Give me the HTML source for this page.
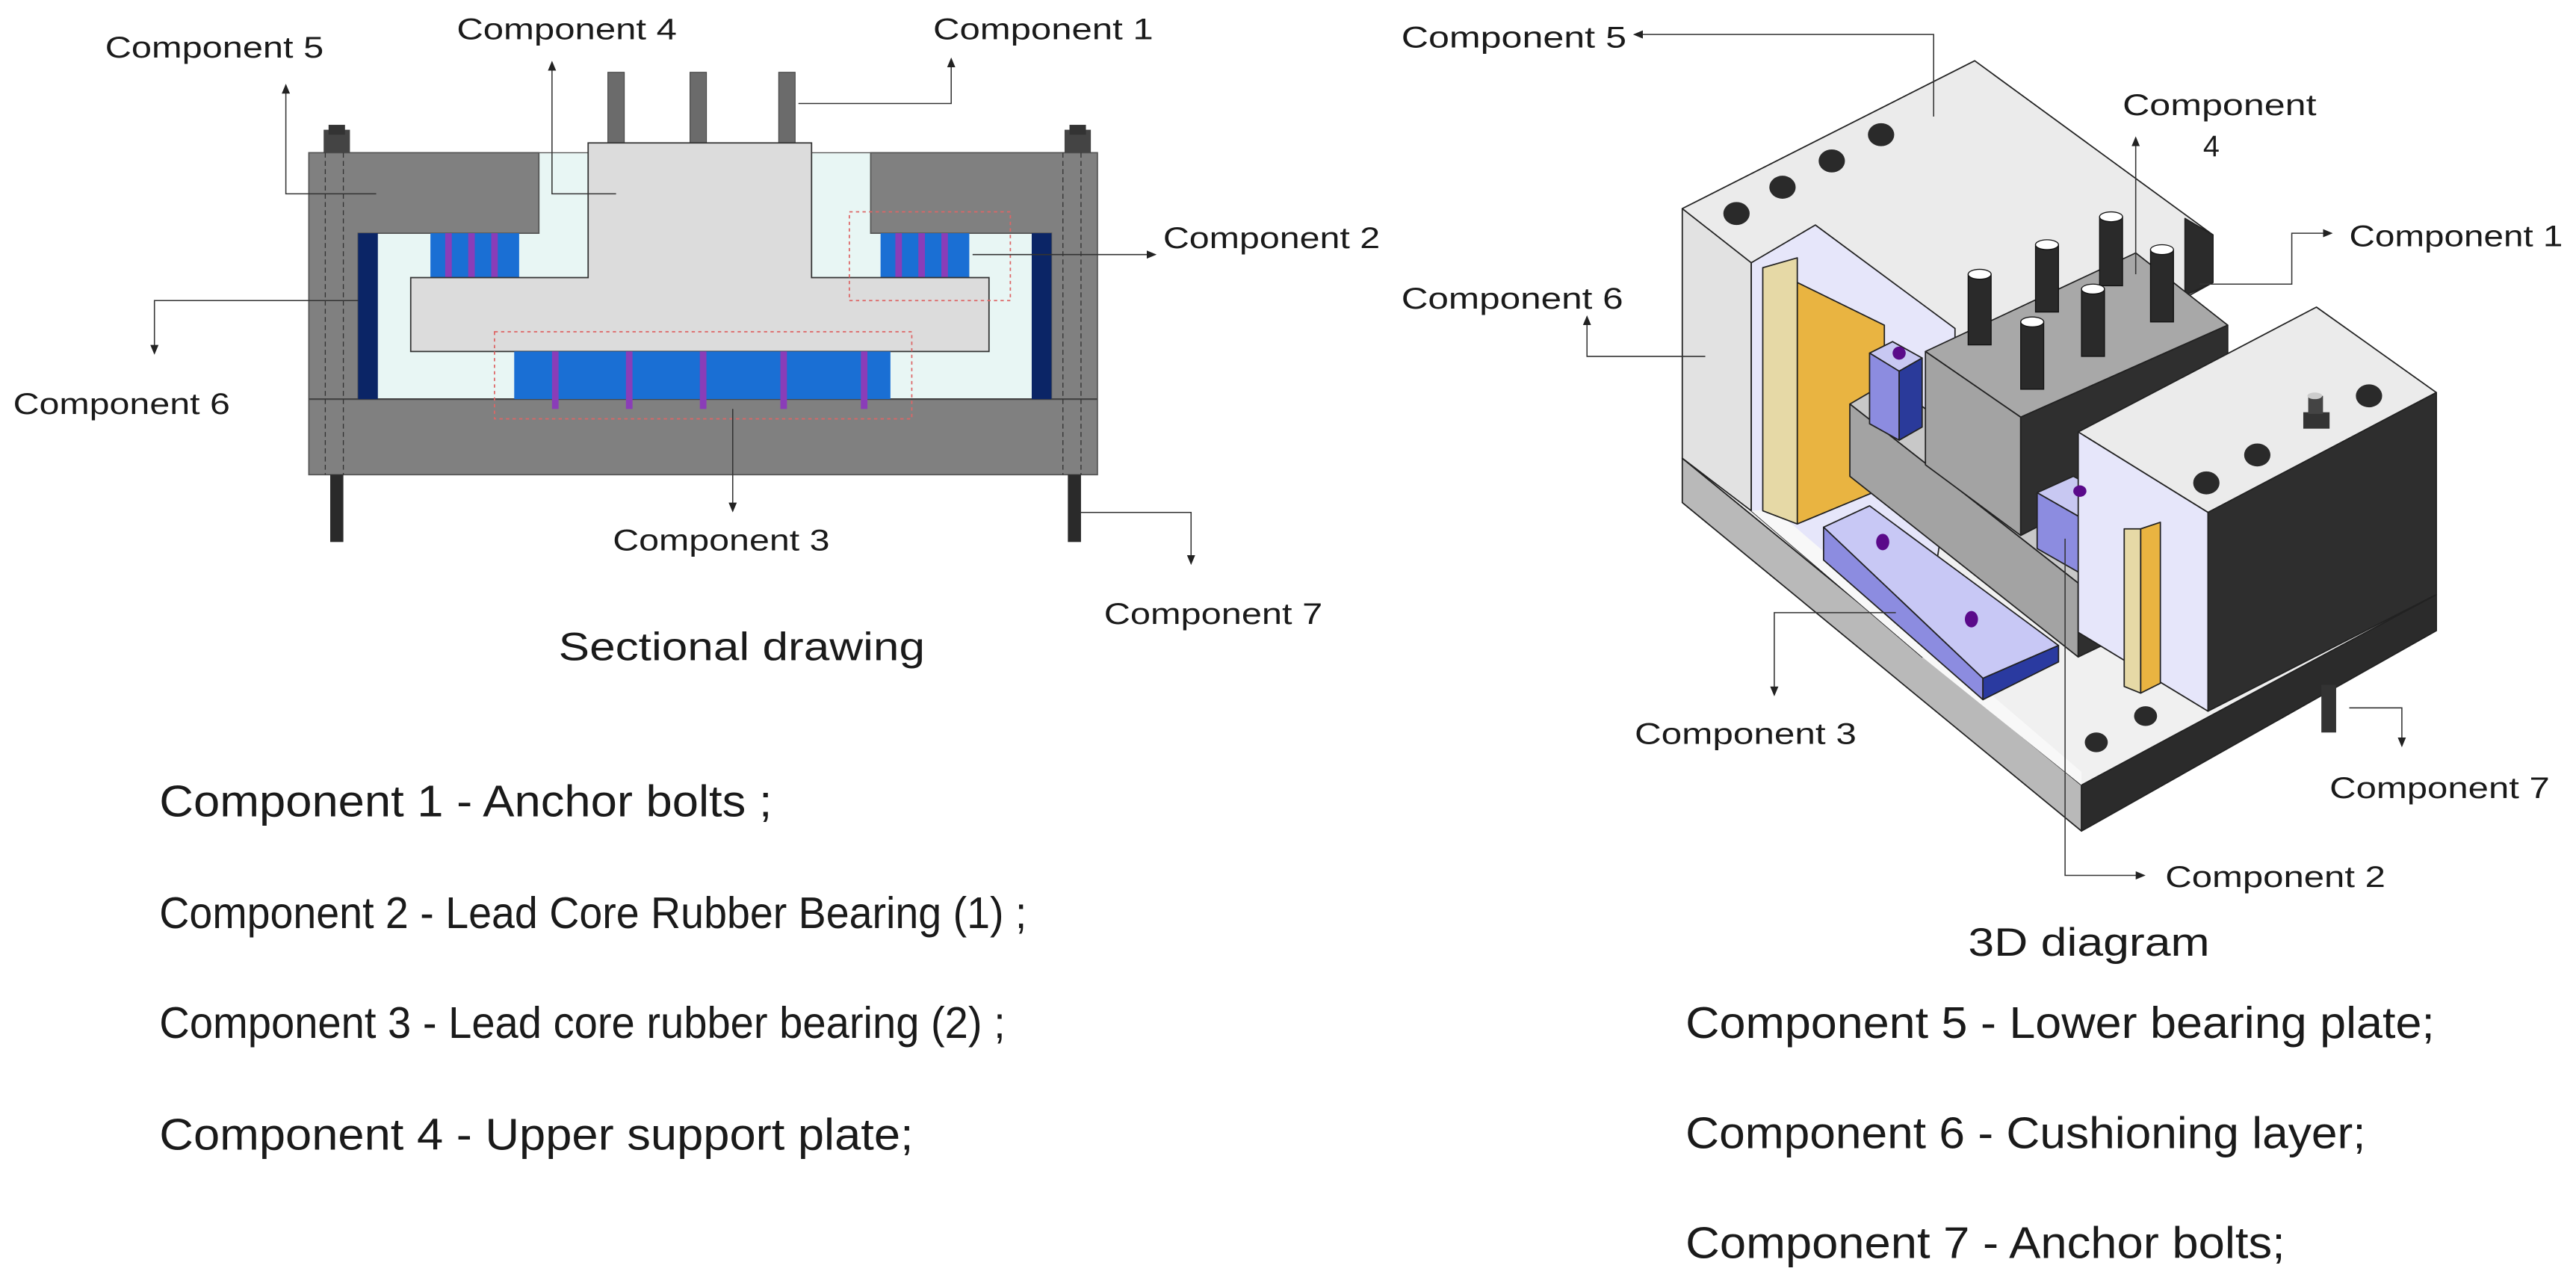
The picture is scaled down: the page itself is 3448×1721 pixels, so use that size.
<!DOCTYPE html>
<html><head><meta charset="utf-8"><style>
html,body{margin:0;padding:0;background:#fff;}
svg{display:block;}
text{font-family:"Liberation Sans",sans-serif;fill:#1a1a1a;}
</style></head><body>
<svg width="3448" height="1721" viewBox="0 0 1568 783" preserveAspectRatio="none" xmlns="http://www.w3.org/2000/svg">
<defs>
<marker id="a" markerWidth="6" markerHeight="6" refX="5" refY="3" orient="auto" markerUnits="userSpaceOnUse"><path d="M0,0.5 L6,3 L0,5.5 z" fill="#222"/></marker>
</defs>
<rect width="1568" height="783" fill="#fff"/>

<!-- ===== SECTIONAL DRAWING ===== -->
<!-- interior light cyan -->
<rect x="218" y="93" width="422" height="150" fill="#e8f6f4" stroke="#555" stroke-width="0.6"/>
<!-- gray frame -->
<path d="M188,93 H328 V142 H218 V243 H640 V142 H530 V93 H668 V289 H188 Z" fill="#808080" stroke="#555" stroke-width="0.8"/>
<line x1="188" y1="243" x2="668" y2="243" stroke="#444" stroke-width="1"/>
<!-- dashed bolt lines -->
<g stroke="#333" stroke-width="0.6" stroke-dasharray="3,2">
<line x1="198" y1="93" x2="198" y2="289"/><line x1="209" y1="93" x2="209" y2="289"/>
<line x1="647" y1="93" x2="647" y2="289"/><line x1="658" y1="93" x2="658" y2="289"/>
</g>
<!-- navy strips -->
<rect x="218" y="142" width="12" height="101" fill="#0b2566"/>
<rect x="628" y="142" width="12" height="101" fill="#0b2566"/>
<!-- nuts -->
<rect x="197" y="79" width="16" height="14" fill="#444"/><rect x="200" y="76" width="10" height="6" fill="#333"/>
<rect x="648" y="79" width="16" height="14" fill="#444"/><rect x="651" y="76" width="10" height="6" fill="#333"/>
<!-- bottom bolts -->
<rect x="201" y="289" width="8" height="41" fill="#2a2a2a"/>
<rect x="650" y="289" width="8" height="41" fill="#2a2a2a"/>
<!-- top bolts -->
<rect x="370" y="44" width="10" height="44" fill="#6b6b6b" stroke="#444" stroke-width="0.5"/>
<rect x="420" y="44" width="10" height="44" fill="#6b6b6b" stroke="#444" stroke-width="0.5"/>
<rect x="474" y="44" width="10" height="44" fill="#6b6b6b" stroke="#444" stroke-width="0.5"/>
<!-- bearings top -->
<rect x="262" y="142" width="54" height="27" fill="#1a6fd4"/>
<rect x="536" y="142" width="54" height="27" fill="#1a6fd4"/>
<g fill="#8a3db8">
<rect x="271" y="142" width="4" height="32"/><rect x="285" y="142" width="4" height="32"/><rect x="299" y="142" width="4" height="32"/>
<rect x="545" y="142" width="4" height="32"/><rect x="559" y="142" width="4" height="32"/><rect x="573" y="142" width="4" height="32"/>
</g>
<!-- upper support plate T -->
<path d="M358,87 H494 V169 H602 V214 H250 V169 H358 Z" fill="#dcdcdc" stroke="#333" stroke-width="0.8"/>
<!-- bottom bearing -->
<rect x="313" y="214" width="229" height="29" fill="#1a6fd4"/>
<g fill="#8a3db8">
<rect x="336" y="214" width="4" height="35"/><rect x="381" y="214" width="4" height="35"/><rect x="426" y="214" width="4" height="35"/><rect x="475" y="214" width="4" height="35"/><rect x="524" y="214" width="4" height="35"/>
</g>
<!-- red dashed boxes -->
<rect x="517" y="129" width="98" height="54" fill="none" stroke="#d66" stroke-width="0.8" stroke-dasharray="2,2"/>
<rect x="301" y="202" width="254" height="53" fill="none" stroke="#d66" stroke-width="0.8" stroke-dasharray="2,2"/>
<!-- connectors -->
<g fill="none" stroke="#333" stroke-width="0.7" marker-end="url(#a)">
<polyline points="229,118 174,118 174,52"/>
<polyline points="375,118 336,118 336,38"/>
<polyline points="486,63 579,63 579,36"/>
<polyline points="592,155 703,155"/>
<polyline points="218,183 94,183 94,215"/>
<polyline points="446,249 446,311"/>
<polyline points="658,312 725,312 725,343"/>
</g>
<g font-size="18">
<text x="64" y="35" textLength="133" lengthAdjust="spacingAndGlyphs">Component 5</text>
<text x="278" y="24" textLength="134" lengthAdjust="spacingAndGlyphs">Component 4</text>
<text x="568" y="24" textLength="134" lengthAdjust="spacingAndGlyphs">Component 1</text>
<text x="708" y="151" textLength="132" lengthAdjust="spacingAndGlyphs">Component 2</text>
<text x="8" y="252" textLength="132" lengthAdjust="spacingAndGlyphs">Component 6</text>
<text x="373" y="335" textLength="132" lengthAdjust="spacingAndGlyphs">Component 3</text>
<text x="672" y="380" textLength="133" lengthAdjust="spacingAndGlyphs">Component 7</text>
</g>
<text x="340" y="402" font-size="24" textLength="223" lengthAdjust="spacingAndGlyphs">Sectional drawing</text>

<!-- legends -->
<g font-size="27">
<text x="97" y="497" textLength="373" lengthAdjust="spacingAndGlyphs">Component 1 - Anchor bolts ;</text>
<text x="97" y="565" textLength="528" lengthAdjust="spacingAndGlyphs">Component 2 - Lead Core Rubber Bearing (1) ;</text>
<text x="97" y="632" textLength="515" lengthAdjust="spacingAndGlyphs">Component 3 - Lead core rubber bearing (2) ;</text>
<text x="97" y="700" textLength="459" lengthAdjust="spacingAndGlyphs">Component 4 - Upper support plate;</text>
<text x="1026" y="632" textLength="456" lengthAdjust="spacingAndGlyphs">Component 5 - Lower bearing plate;</text>
<text x="1026" y="699" textLength="414" lengthAdjust="spacingAndGlyphs">Component 6 - Cushioning layer;</text>
<text x="1026" y="766" textLength="365" lengthAdjust="spacingAndGlyphs">Component 7 - Anchor bolts;</text>
</g>

<!-- ===== 3D DIAGRAM ===== -->
<g stroke="#222" stroke-width="0.8" stroke-linejoin="round">
<!-- base plate -->
<polygon points="1024,279 1024,306 1267,506 1267,478" fill="#b9b9b9"/>
<polygon points="1267,478 1483,362 1483,384 1267,506" fill="#2b2b2b"/>
<polygon points="1024,279 1169,233 1483,362 1267,478" fill="#f0f0f0"/>
<!-- left block top -->
<polygon points="1024,127 1202,37 1347,143 1347,172 1169,270" fill="#ebebeb"/>
<polygon points="1330,133 1347,143 1347,172 1330,180" fill="#2b2b2b"/>
<!-- left block front face -->
<polygon points="1024,127 1066,160 1066,311 1024,279" fill="#e2e2e2"/>
<!-- cavity lavender -->
<polygon points="1066,160 1105,137 1190,200 1190,270 1170,400 1066,311" fill="#e6e6fa"/>
<polygon points="1066,311 1170,400 1267,478 1267,470 1080,310" fill="#f8f8f8" stroke="none"/>
<!-- holes top -->
<g fill="#2a2a2a" stroke="none">
<ellipse cx="1057" cy="130" rx="8" ry="7"/><ellipse cx="1085" cy="114" rx="8" ry="7"/><ellipse cx="1115" cy="98" rx="8" ry="7"/><ellipse cx="1145" cy="82" rx="8" ry="7"/>
<ellipse cx="1276" cy="452" rx="7" ry="6"/><ellipse cx="1306" cy="436" rx="7" ry="6"/>
</g>
<!-- yellow cushion -->
<polygon points="1094,172 1147,198 1147,297 1094,319" fill="#e9b441"/>
<polygon points="1073,163 1094,157 1094,319 1073,311" fill="#e6d9a6"/>
<!-- lower flange gray bar -->
<polygon points="1126,246 1150,232 1290,340 1265,355" fill="#c8c8c8"/>
<polygon points="1126,246 1265,355 1265,400 1126,290" fill="#a3a3a3"/>
<polygon points="1265,355 1290,340 1290,388 1265,400" fill="#2f2f2f"/>
<!-- upper support block -->
<polygon points="1172,214 1300,154 1356,198 1230,254" fill="#a8a8a8"/>
<polygon points="1172,214 1230,254 1230,326 1172,283" fill="#a3a3a3"/>
<polygon points="1230,254 1356,198 1356,261 1230,326" fill="#2f2f2f"/>
<!-- small bearing 1 -->
<polygon points="1138,215 1152,208 1170,218 1156,226" fill="#c8c8f2"/>
<polygon points="1138,215 1156,226 1156,268 1138,258" fill="#8c8ce0"/>
<polygon points="1156,226 1170,218 1170,260 1156,268" fill="#2a3a9a"/>
<!-- small bearing 2 -->
<polygon points="1240,300 1262,290 1290,305 1268,316" fill="#c8c8f2"/>
<polygon points="1240,300 1268,316 1268,350 1240,334" fill="#8c8ce0"/>
<polygon points="1268,316 1290,305 1298,340 1268,350" fill="#2a3aa0"/>
<!-- long bearing -->
<polygon points="1110,321 1138,308 1253,393 1207,413" fill="#c8c8f5"/>
<polygon points="1110,321 1207,413 1207,426 1110,341" fill="#8c8ce0"/>
<polygon points="1207,413 1253,393 1253,403 1207,426" fill="#2a3aa0"/>
<!-- right block -->
<polygon points="1265,263 1410,187 1483,239 1344,312" fill="#ebebeb"/>
<polygon points="1265,263 1344,312 1344,433 1265,385" fill="#e6e6fa"/>
<polygon points="1344,312 1483,239 1483,362 1344,433" fill="#2e2e2e"/>
<!-- second cushion -->
<polygon points="1303,322 1315,318 1315,416 1303,422" fill="#e9b441"/>
<polygon points="1293,322 1303,322 1303,422 1293,418" fill="#e6d9a6"/>
</g>
<g fill="#5a0a8a">
<ellipse cx="1156" cy="215" rx="4" ry="4"/><ellipse cx="1266" cy="299" rx="4" ry="3.5"/>
<ellipse cx="1146" cy="330" rx="4" ry="5"/><ellipse cx="1200" cy="377" rx="4" ry="5"/>
</g>
<g fill="#2a2a2a">
<ellipse cx="1343" cy="294" rx="8" ry="7"/><ellipse cx="1374" cy="277" rx="8" ry="7"/><ellipse cx="1442" cy="241" rx="8" ry="7"/>
</g>
<!-- knob -->
<rect x="1402" y="251" width="16" height="10" fill="#333"/><rect x="1405" y="241" width="9" height="11" fill="#444"/><ellipse cx="1409" cy="241" rx="4.5" ry="2" fill="#ccc"/>
<!-- bolts on upper plate -->
<g stroke="#111" stroke-width="0.6">
<rect x="1198" y="167" width="14" height="43" fill="#2a2a2a"/><ellipse cx="1205" cy="167" rx="7" ry="3" fill="#fff"/>
<rect x="1239" y="149" width="14" height="41" fill="#2a2a2a"/><ellipse cx="1246" cy="149" rx="7" ry="3" fill="#fff"/>
<rect x="1278" y="132" width="14" height="42" fill="#2a2a2a"/><ellipse cx="1285" cy="132" rx="7" ry="3" fill="#fff"/>
<rect x="1309" y="152" width="14" height="44" fill="#2a2a2a"/><ellipse cx="1316" cy="152" rx="7" ry="3" fill="#fff"/>
<rect x="1267" y="176" width="14" height="41" fill="#2a2a2a"/><ellipse cx="1274" cy="176" rx="7" ry="3" fill="#fff"/>
<rect x="1230" y="196" width="14" height="41" fill="#2a2a2a"/><ellipse cx="1237" cy="196" rx="7" ry="3" fill="#fff"/>
</g>
<!-- bottom bolt comp7 -->
<rect x="1413" y="417" width="9" height="29" fill="#333"/>
<!-- connectors right -->
<g fill="none" stroke="#333" stroke-width="0.7" marker-end="url(#a)">
<polyline points="1177,71 1177,21 995,21"/>
<polyline points="1300,167 1300,84"/>
<polyline points="1339,173 1395,173 1395,142 1419,142"/>
<polyline points="1038,217 966,217 966,193"/>
<polyline points="1154,373 1080,373 1080,423"/>
<polyline points="1430,431 1462,431 1462,454"/>
<polyline points="1257,328 1257,533 1305,533"/>
</g>
<g font-size="18">
<text x="853" y="29" textLength="137" lengthAdjust="spacingAndGlyphs">Component 5</text>
<text x="1292" y="70" textLength="118" lengthAdjust="spacingAndGlyphs">Component</text>
<text x="1341" y="95">4</text>
<text x="1430" y="150" textLength="130" lengthAdjust="spacingAndGlyphs">Component 1</text>
<text x="853" y="188" textLength="135" lengthAdjust="spacingAndGlyphs">Component 6</text>
<text x="995" y="453" textLength="135" lengthAdjust="spacingAndGlyphs">Component 3</text>
<text x="1418" y="486" textLength="134" lengthAdjust="spacingAndGlyphs">Component 7</text>
<text x="1318" y="540" textLength="134" lengthAdjust="spacingAndGlyphs">Component 2</text>
</g>
<text x="1198" y="582" font-size="24" textLength="147" lengthAdjust="spacingAndGlyphs">3D diagram</text>
</svg>
</body></html>
